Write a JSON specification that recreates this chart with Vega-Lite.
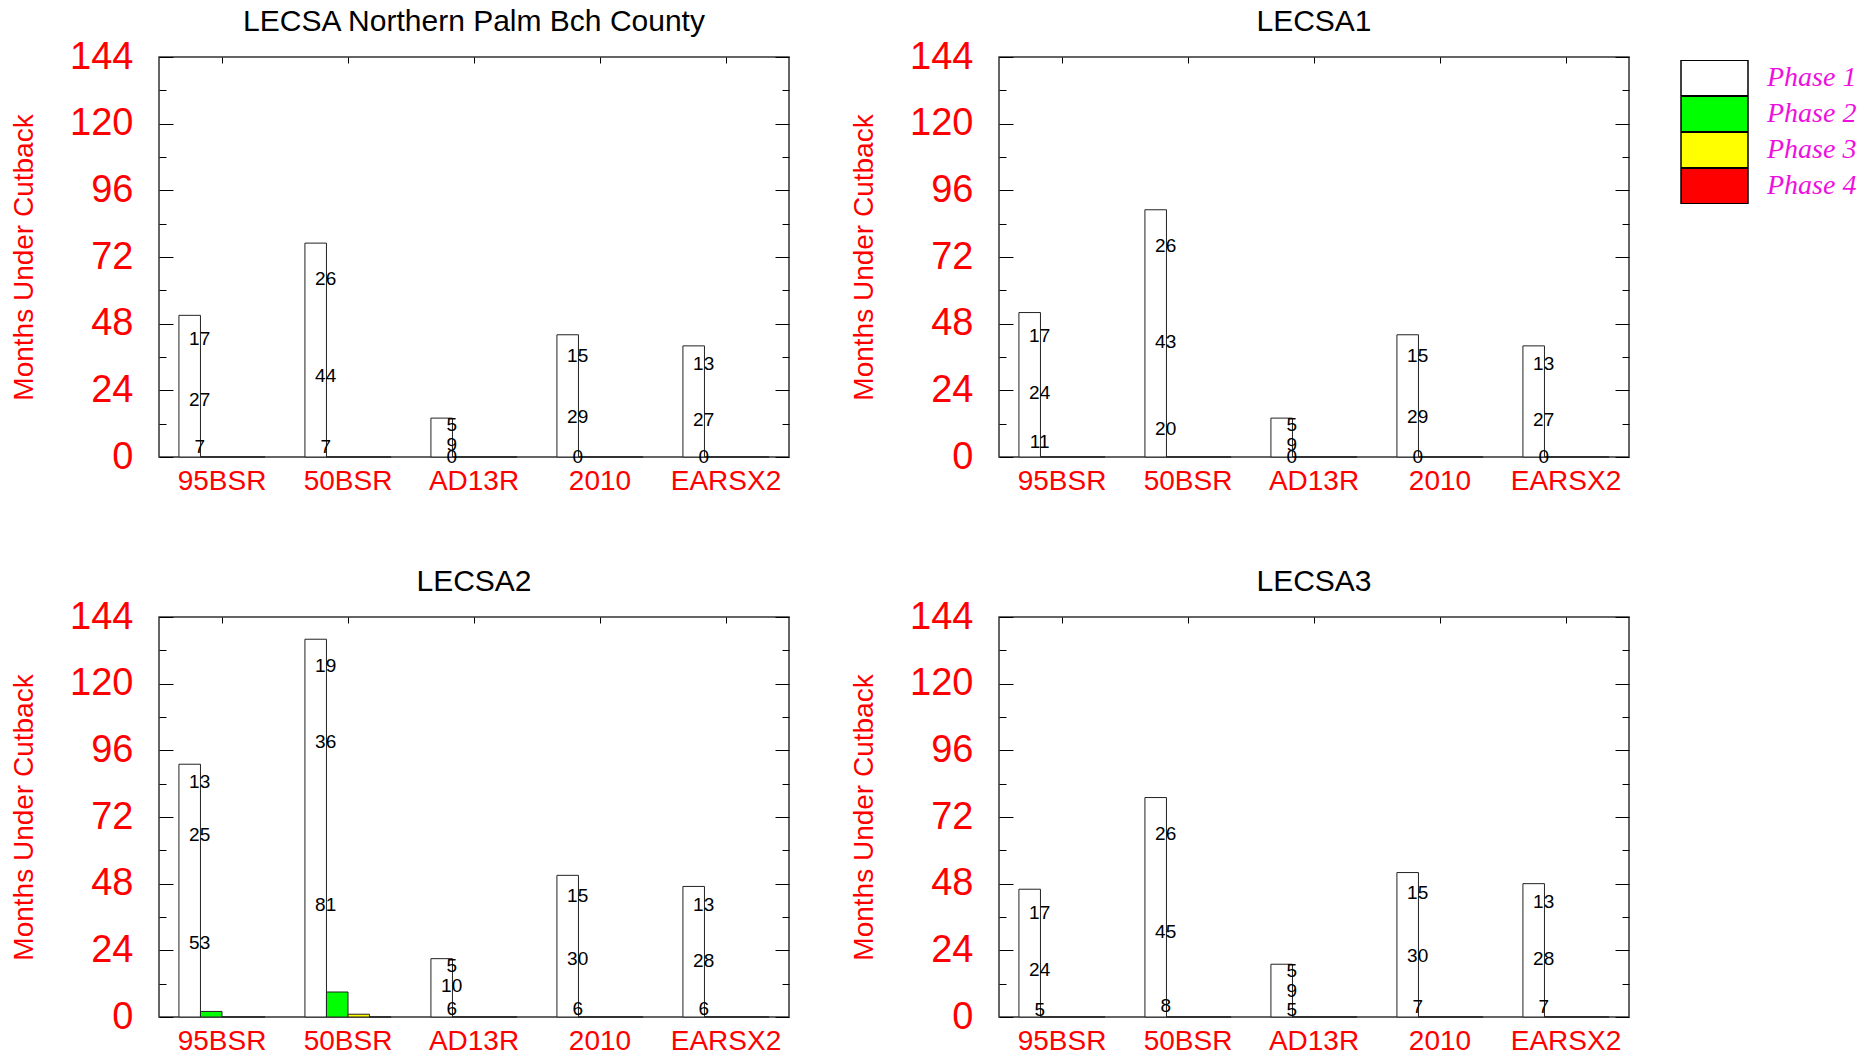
{
  "$schema": "https://vega.github.io/schema/vega-lite/v6.json",
  "padding": {"left": 9, "top": 6, "right": 0, "bottom": 0},
  "background": "white",
  "datasets": {
    "bars": [
      {"panel": "P1", "cat": "95BSR", "phase": "Phase 1", "months": 51},
      {"panel": "P1", "cat": "95BSR", "phase": "Phase 2", "months": 0},
      {"panel": "P1", "cat": "95BSR", "phase": "Phase 3", "months": 0},
      {"panel": "P1", "cat": "95BSR", "phase": "Phase 4", "months": 0},
      {"panel": "P1", "cat": "50BSR", "phase": "Phase 1", "months": 77},
      {"panel": "P1", "cat": "50BSR", "phase": "Phase 2", "months": 0},
      {"panel": "P1", "cat": "50BSR", "phase": "Phase 3", "months": 0},
      {"panel": "P1", "cat": "50BSR", "phase": "Phase 4", "months": 0},
      {"panel": "P1", "cat": "AD13R", "phase": "Phase 1", "months": 14},
      {"panel": "P1", "cat": "AD13R", "phase": "Phase 2", "months": 0},
      {"panel": "P1", "cat": "AD13R", "phase": "Phase 3", "months": 0},
      {"panel": "P1", "cat": "AD13R", "phase": "Phase 4", "months": 0},
      {"panel": "P1", "cat": "2010", "phase": "Phase 1", "months": 44},
      {"panel": "P1", "cat": "2010", "phase": "Phase 2", "months": 0},
      {"panel": "P1", "cat": "2010", "phase": "Phase 3", "months": 0},
      {"panel": "P1", "cat": "2010", "phase": "Phase 4", "months": 0},
      {"panel": "P1", "cat": "EARSX2", "phase": "Phase 1", "months": 40},
      {"panel": "P1", "cat": "EARSX2", "phase": "Phase 2", "months": 0},
      {"panel": "P1", "cat": "EARSX2", "phase": "Phase 3", "months": 0},
      {"panel": "P1", "cat": "EARSX2", "phase": "Phase 4", "months": 0},
      {"panel": "P2", "cat": "95BSR", "phase": "Phase 1", "months": 52},
      {"panel": "P2", "cat": "95BSR", "phase": "Phase 2", "months": 0},
      {"panel": "P2", "cat": "95BSR", "phase": "Phase 3", "months": 0},
      {"panel": "P2", "cat": "95BSR", "phase": "Phase 4", "months": 0},
      {"panel": "P2", "cat": "50BSR", "phase": "Phase 1", "months": 89},
      {"panel": "P2", "cat": "50BSR", "phase": "Phase 2", "months": 0},
      {"panel": "P2", "cat": "50BSR", "phase": "Phase 3", "months": 0},
      {"panel": "P2", "cat": "50BSR", "phase": "Phase 4", "months": 0},
      {"panel": "P2", "cat": "AD13R", "phase": "Phase 1", "months": 14},
      {"panel": "P2", "cat": "AD13R", "phase": "Phase 2", "months": 0},
      {"panel": "P2", "cat": "AD13R", "phase": "Phase 3", "months": 0},
      {"panel": "P2", "cat": "AD13R", "phase": "Phase 4", "months": 0},
      {"panel": "P2", "cat": "2010", "phase": "Phase 1", "months": 44},
      {"panel": "P2", "cat": "2010", "phase": "Phase 2", "months": 0},
      {"panel": "P2", "cat": "2010", "phase": "Phase 3", "months": 0},
      {"panel": "P2", "cat": "2010", "phase": "Phase 4", "months": 0},
      {"panel": "P2", "cat": "EARSX2", "phase": "Phase 1", "months": 40},
      {"panel": "P2", "cat": "EARSX2", "phase": "Phase 2", "months": 0},
      {"panel": "P2", "cat": "EARSX2", "phase": "Phase 3", "months": 0},
      {"panel": "P2", "cat": "EARSX2", "phase": "Phase 4", "months": 0},
      {"panel": "P3", "cat": "95BSR", "phase": "Phase 1", "months": 91},
      {"panel": "P3", "cat": "95BSR", "phase": "Phase 2", "months": 2},
      {"panel": "P3", "cat": "95BSR", "phase": "Phase 3", "months": 0},
      {"panel": "P3", "cat": "95BSR", "phase": "Phase 4", "months": 0},
      {"panel": "P3", "cat": "50BSR", "phase": "Phase 1", "months": 136},
      {"panel": "P3", "cat": "50BSR", "phase": "Phase 2", "months": 9},
      {"panel": "P3", "cat": "50BSR", "phase": "Phase 3", "months": 1},
      {"panel": "P3", "cat": "50BSR", "phase": "Phase 4", "months": 0},
      {"panel": "P3", "cat": "AD13R", "phase": "Phase 1", "months": 21},
      {"panel": "P3", "cat": "AD13R", "phase": "Phase 2", "months": 0},
      {"panel": "P3", "cat": "AD13R", "phase": "Phase 3", "months": 0},
      {"panel": "P3", "cat": "AD13R", "phase": "Phase 4", "months": 0},
      {"panel": "P3", "cat": "2010", "phase": "Phase 1", "months": 51},
      {"panel": "P3", "cat": "2010", "phase": "Phase 2", "months": 0},
      {"panel": "P3", "cat": "2010", "phase": "Phase 3", "months": 0},
      {"panel": "P3", "cat": "2010", "phase": "Phase 4", "months": 0},
      {"panel": "P3", "cat": "EARSX2", "phase": "Phase 1", "months": 47},
      {"panel": "P3", "cat": "EARSX2", "phase": "Phase 2", "months": 0},
      {"panel": "P3", "cat": "EARSX2", "phase": "Phase 3", "months": 0},
      {"panel": "P3", "cat": "EARSX2", "phase": "Phase 4", "months": 0},
      {"panel": "P4", "cat": "95BSR", "phase": "Phase 1", "months": 46},
      {"panel": "P4", "cat": "95BSR", "phase": "Phase 2", "months": 0},
      {"panel": "P4", "cat": "95BSR", "phase": "Phase 3", "months": 0},
      {"panel": "P4", "cat": "95BSR", "phase": "Phase 4", "months": 0},
      {"panel": "P4", "cat": "50BSR", "phase": "Phase 1", "months": 79},
      {"panel": "P4", "cat": "50BSR", "phase": "Phase 2", "months": 0},
      {"panel": "P4", "cat": "50BSR", "phase": "Phase 3", "months": 0},
      {"panel": "P4", "cat": "50BSR", "phase": "Phase 4", "months": 0},
      {"panel": "P4", "cat": "AD13R", "phase": "Phase 1", "months": 19},
      {"panel": "P4", "cat": "AD13R", "phase": "Phase 2", "months": 0},
      {"panel": "P4", "cat": "AD13R", "phase": "Phase 3", "months": 0},
      {"panel": "P4", "cat": "AD13R", "phase": "Phase 4", "months": 0},
      {"panel": "P4", "cat": "2010", "phase": "Phase 1", "months": 52},
      {"panel": "P4", "cat": "2010", "phase": "Phase 2", "months": 0},
      {"panel": "P4", "cat": "2010", "phase": "Phase 3", "months": 0},
      {"panel": "P4", "cat": "2010", "phase": "Phase 4", "months": 0},
      {"panel": "P4", "cat": "EARSX2", "phase": "Phase 1", "months": 48},
      {"panel": "P4", "cat": "EARSX2", "phase": "Phase 2", "months": 0},
      {"panel": "P4", "cat": "EARSX2", "phase": "Phase 3", "months": 0},
      {"panel": "P4", "cat": "EARSX2", "phase": "Phase 4", "months": 0}
    ],
    "segs": [
      {"panel": "P1", "cat": "95BSR", "phase": "Phase 1", "seg": 1, "n": 7},
      {"panel": "P1", "cat": "95BSR", "phase": "Phase 1", "seg": 2, "n": 27},
      {"panel": "P1", "cat": "95BSR", "phase": "Phase 1", "seg": 3, "n": 17},
      {"panel": "P1", "cat": "50BSR", "phase": "Phase 1", "seg": 1, "n": 7},
      {"panel": "P1", "cat": "50BSR", "phase": "Phase 1", "seg": 2, "n": 44},
      {"panel": "P1", "cat": "50BSR", "phase": "Phase 1", "seg": 3, "n": 26},
      {"panel": "P1", "cat": "AD13R", "phase": "Phase 1", "seg": 1, "n": 0},
      {"panel": "P1", "cat": "AD13R", "phase": "Phase 1", "seg": 2, "n": 9},
      {"panel": "P1", "cat": "AD13R", "phase": "Phase 1", "seg": 3, "n": 5},
      {"panel": "P1", "cat": "2010", "phase": "Phase 1", "seg": 1, "n": 0},
      {"panel": "P1", "cat": "2010", "phase": "Phase 1", "seg": 2, "n": 29},
      {"panel": "P1", "cat": "2010", "phase": "Phase 1", "seg": 3, "n": 15},
      {"panel": "P1", "cat": "EARSX2", "phase": "Phase 1", "seg": 1, "n": 0},
      {"panel": "P1", "cat": "EARSX2", "phase": "Phase 1", "seg": 2, "n": 27},
      {"panel": "P1", "cat": "EARSX2", "phase": "Phase 1", "seg": 3, "n": 13},
      {"panel": "P2", "cat": "95BSR", "phase": "Phase 1", "seg": 1, "n": 11},
      {"panel": "P2", "cat": "95BSR", "phase": "Phase 1", "seg": 2, "n": 24},
      {"panel": "P2", "cat": "95BSR", "phase": "Phase 1", "seg": 3, "n": 17},
      {"panel": "P2", "cat": "50BSR", "phase": "Phase 1", "seg": 1, "n": 20},
      {"panel": "P2", "cat": "50BSR", "phase": "Phase 1", "seg": 2, "n": 43},
      {"panel": "P2", "cat": "50BSR", "phase": "Phase 1", "seg": 3, "n": 26},
      {"panel": "P2", "cat": "AD13R", "phase": "Phase 1", "seg": 1, "n": 0},
      {"panel": "P2", "cat": "AD13R", "phase": "Phase 1", "seg": 2, "n": 9},
      {"panel": "P2", "cat": "AD13R", "phase": "Phase 1", "seg": 3, "n": 5},
      {"panel": "P2", "cat": "2010", "phase": "Phase 1", "seg": 1, "n": 0},
      {"panel": "P2", "cat": "2010", "phase": "Phase 1", "seg": 2, "n": 29},
      {"panel": "P2", "cat": "2010", "phase": "Phase 1", "seg": 3, "n": 15},
      {"panel": "P2", "cat": "EARSX2", "phase": "Phase 1", "seg": 1, "n": 0},
      {"panel": "P2", "cat": "EARSX2", "phase": "Phase 1", "seg": 2, "n": 27},
      {"panel": "P2", "cat": "EARSX2", "phase": "Phase 1", "seg": 3, "n": 13},
      {"panel": "P3", "cat": "95BSR", "phase": "Phase 1", "seg": 1, "n": 53},
      {"panel": "P3", "cat": "95BSR", "phase": "Phase 1", "seg": 2, "n": 25},
      {"panel": "P3", "cat": "95BSR", "phase": "Phase 1", "seg": 3, "n": 13},
      {"panel": "P3", "cat": "50BSR", "phase": "Phase 1", "seg": 1, "n": 81},
      {"panel": "P3", "cat": "50BSR", "phase": "Phase 1", "seg": 2, "n": 36},
      {"panel": "P3", "cat": "50BSR", "phase": "Phase 1", "seg": 3, "n": 19},
      {"panel": "P3", "cat": "AD13R", "phase": "Phase 1", "seg": 1, "n": 6},
      {"panel": "P3", "cat": "AD13R", "phase": "Phase 1", "seg": 2, "n": 10},
      {"panel": "P3", "cat": "AD13R", "phase": "Phase 1", "seg": 3, "n": 5},
      {"panel": "P3", "cat": "2010", "phase": "Phase 1", "seg": 1, "n": 6},
      {"panel": "P3", "cat": "2010", "phase": "Phase 1", "seg": 2, "n": 30},
      {"panel": "P3", "cat": "2010", "phase": "Phase 1", "seg": 3, "n": 15},
      {"panel": "P3", "cat": "EARSX2", "phase": "Phase 1", "seg": 1, "n": 6},
      {"panel": "P3", "cat": "EARSX2", "phase": "Phase 1", "seg": 2, "n": 28},
      {"panel": "P3", "cat": "EARSX2", "phase": "Phase 1", "seg": 3, "n": 13},
      {"panel": "P4", "cat": "95BSR", "phase": "Phase 1", "seg": 1, "n": 5},
      {"panel": "P4", "cat": "95BSR", "phase": "Phase 1", "seg": 2, "n": 24},
      {"panel": "P4", "cat": "95BSR", "phase": "Phase 1", "seg": 3, "n": 17},
      {"panel": "P4", "cat": "50BSR", "phase": "Phase 1", "seg": 1, "n": 8},
      {"panel": "P4", "cat": "50BSR", "phase": "Phase 1", "seg": 2, "n": 45},
      {"panel": "P4", "cat": "50BSR", "phase": "Phase 1", "seg": 3, "n": 26},
      {"panel": "P4", "cat": "AD13R", "phase": "Phase 1", "seg": 1, "n": 5},
      {"panel": "P4", "cat": "AD13R", "phase": "Phase 1", "seg": 2, "n": 9},
      {"panel": "P4", "cat": "AD13R", "phase": "Phase 1", "seg": 3, "n": 5},
      {"panel": "P4", "cat": "2010", "phase": "Phase 1", "seg": 1, "n": 7},
      {"panel": "P4", "cat": "2010", "phase": "Phase 1", "seg": 2, "n": 30},
      {"panel": "P4", "cat": "2010", "phase": "Phase 1", "seg": 3, "n": 15},
      {"panel": "P4", "cat": "EARSX2", "phase": "Phase 1", "seg": 1, "n": 7},
      {"panel": "P4", "cat": "EARSX2", "phase": "Phase 1", "seg": 2, "n": 28},
      {"panel": "P4", "cat": "EARSX2", "phase": "Phase 1", "seg": 3, "n": 13}
    ]
  },
  "columns": 2,
  "spacing": {"row": 160, "column": 210},
  "bounds": "flush",
  "concat": [
    {
      "title": "LECSA Northern Palm Bch County",
      "width": 630, "height": 400,
      "layer": [
        {
          "data": {"name": "bars"},
          "transform": [{"filter": "datum.panel === 'P1'"}],
          "mark": {"type": "bar", "stroke": "#222", "strokeWidth": 1},
          "encoding": {
            "x": {"field": "cat", "type": "nominal", "sort": ["95BSR", "50BSR", "AD13R", "2010", "EARSX2"], "scale": {"paddingInner": 0.316, "paddingOuter": 0.158}, "axis": {"orient": "bottom", "title": null, "ticks": false, "labelColor": "red", "labelFontSize": 28, "labelPadding": 10, "labelAngle": 0}},
            "xOffset": {"field": "phase", "type": "nominal", "sort": ["Phase 1", "Phase 2", "Phase 3", "Phase 4"], "scale": {"paddingInner": 0, "paddingOuter": 0}},
            "y": {"field": "months", "type": "quantitative", "scale": {"domain": [0, 144], "nice": false}, "axis": {"orient": "left", "values": [0, 12, 24, 36, 48, 60, 72, 84, 96, 108, 120, 132, 144], "labelExpr": "datum.value % 24 === 0 ? datum.label : ''", "tickSize": {"condition": {"test": "datum.value % 24 === 0", "value": -14}, "value": -7}, "labelColor": "red", "labelFontSize": 38, "labelPadding": 40, "labelBaseline": "middle", "title": "Months Under Cutback", "titleColor": "red", "titleFontSize": 28, "titleFontWeight": "normal", "titleX": -127, "titleY": 200, "titleAngle": -90, "titleAlign": "center", "titleBaseline": "alphabetic"}},
            "color": {"field": "phase", "type": "nominal", "scale": {"domain": ["Phase 1", "Phase 2", "Phase 3", "Phase 4"], "range": ["#ffffff", "#00ff00", "#ffff00", "#ff0000"]}, "legend": {"orient": "none", "legendX": 1521, "legendY": 3, "title": null, "symbolType": "M-1,-0.53H1V0.53H-1Z", "symbolSize": 4489, "symbolStrokeColor": "black", "symbolStrokeWidth": 1.5, "labelFont": "Liberation Serif", "labelFontStyle": "italic", "labelFontSize": 28, "labelColor": "#ee11dd", "labelOffset": 18, "clipHeight": 36, "rowPadding": 0, "padding": 0}}
          }
        },
        {
          "data": {"name": "segs"},
          "transform": [
            {"filter": "datum.panel === 'P1'"},
            {"stack": "n", "groupby": ["cat"], "sort": [{"field": "seg", "order": "ascending"}], "as": ["n0", "n1"]},
            {"fold": ["n0", "n1"], "as": ["edge", "pos"]},
            {"aggregate": [{"op": "mean", "field": "pos", "as": "mid"}], "groupby": ["cat", "phase", "seg", "n"]}
          ],
          "mark": {"type": "text", "font": "Liberation Sans", "fontSize": 19, "color": "black", "dx": 10, "align": "center", "baseline": "middle"},
          "encoding": {
            "x": {"field": "cat", "type": "nominal", "sort": ["95BSR", "50BSR", "AD13R", "2010", "EARSX2"], "axis": {"orient": "top", "labels": false, "title": null, "tickSize": -6}},
            "xOffset": {"field": "phase", "type": "nominal", "sort": ["Phase 1", "Phase 2", "Phase 3", "Phase 4"]},
            "y": {"field": "mid", "type": "quantitative", "axis": {"orient": "right", "values": [0, 12, 24, 36, 48, 60, 72, 84, 96, 108, 120, 132, 144], "labels": false, "title": null, "tickSize": {"condition": {"test": "datum.value % 24 === 0", "value": -14}, "value": -7}}},
            "text": {"field": "n", "type": "quantitative"}
          }
        }
      ]
    },
    {
      "title": "LECSA1",
      "width": 630, "height": 400,
      "layer": [
        {
          "data": {"name": "bars"},
          "transform": [{"filter": "datum.panel === 'P2'"}],
          "mark": {"type": "bar", "stroke": "#222", "strokeWidth": 1},
          "encoding": {
            "x": {"field": "cat", "type": "nominal", "sort": ["95BSR", "50BSR", "AD13R", "2010", "EARSX2"], "scale": {"paddingInner": 0.316, "paddingOuter": 0.158}, "axis": {"orient": "bottom", "title": null, "ticks": false, "labelColor": "red", "labelFontSize": 28, "labelPadding": 10, "labelAngle": 0}},
            "xOffset": {"field": "phase", "type": "nominal", "sort": ["Phase 1", "Phase 2", "Phase 3", "Phase 4"], "scale": {"paddingInner": 0, "paddingOuter": 0}},
            "y": {"field": "months", "type": "quantitative", "scale": {"domain": [0, 144], "nice": false}, "axis": {"orient": "left", "values": [0, 12, 24, 36, 48, 60, 72, 84, 96, 108, 120, 132, 144], "labelExpr": "datum.value % 24 === 0 ? datum.label : ''", "tickSize": {"condition": {"test": "datum.value % 24 === 0", "value": -14}, "value": -7}, "labelColor": "red", "labelFontSize": 38, "labelPadding": 40, "labelBaseline": "middle", "title": "Months Under Cutback", "titleColor": "red", "titleFontSize": 28, "titleFontWeight": "normal", "titleX": -127, "titleY": 200, "titleAngle": -90, "titleAlign": "center", "titleBaseline": "alphabetic"}},
            "color": {"field": "phase", "type": "nominal", "scale": {"domain": ["Phase 1", "Phase 2", "Phase 3", "Phase 4"], "range": ["#ffffff", "#00ff00", "#ffff00", "#ff0000"]}, "legend": {"orient": "none", "legendX": 1521, "legendY": 3, "title": null, "symbolType": "M-1,-0.53H1V0.53H-1Z", "symbolSize": 4489, "symbolStrokeColor": "black", "symbolStrokeWidth": 1.5, "labelFont": "Liberation Serif", "labelFontStyle": "italic", "labelFontSize": 28, "labelColor": "#ee11dd", "labelOffset": 18, "clipHeight": 36, "rowPadding": 0, "padding": 0}}
          }
        },
        {
          "data": {"name": "segs"},
          "transform": [
            {"filter": "datum.panel === 'P2'"},
            {"stack": "n", "groupby": ["cat"], "sort": [{"field": "seg", "order": "ascending"}], "as": ["n0", "n1"]},
            {"fold": ["n0", "n1"], "as": ["edge", "pos"]},
            {"aggregate": [{"op": "mean", "field": "pos", "as": "mid"}], "groupby": ["cat", "phase", "seg", "n"]}
          ],
          "mark": {"type": "text", "font": "Liberation Sans", "fontSize": 19, "color": "black", "dx": 10, "align": "center", "baseline": "middle"},
          "encoding": {
            "x": {"field": "cat", "type": "nominal", "sort": ["95BSR", "50BSR", "AD13R", "2010", "EARSX2"], "axis": {"orient": "top", "labels": false, "title": null, "tickSize": -6}},
            "xOffset": {"field": "phase", "type": "nominal", "sort": ["Phase 1", "Phase 2", "Phase 3", "Phase 4"]},
            "y": {"field": "mid", "type": "quantitative", "axis": {"orient": "right", "values": [0, 12, 24, 36, 48, 60, 72, 84, 96, 108, 120, 132, 144], "labels": false, "title": null, "tickSize": {"condition": {"test": "datum.value % 24 === 0", "value": -14}, "value": -7}}},
            "text": {"field": "n", "type": "quantitative"}
          }
        }
      ]
    },
    {
      "title": "LECSA2",
      "width": 630, "height": 400,
      "layer": [
        {
          "data": {"name": "bars"},
          "transform": [{"filter": "datum.panel === 'P3'"}],
          "mark": {"type": "bar", "stroke": "#222", "strokeWidth": 1},
          "encoding": {
            "x": {"field": "cat", "type": "nominal", "sort": ["95BSR", "50BSR", "AD13R", "2010", "EARSX2"], "scale": {"paddingInner": 0.316, "paddingOuter": 0.158}, "axis": {"orient": "bottom", "title": null, "ticks": false, "labelColor": "red", "labelFontSize": 28, "labelPadding": 10, "labelAngle": 0}},
            "xOffset": {"field": "phase", "type": "nominal", "sort": ["Phase 1", "Phase 2", "Phase 3", "Phase 4"], "scale": {"paddingInner": 0, "paddingOuter": 0}},
            "y": {"field": "months", "type": "quantitative", "scale": {"domain": [0, 144], "nice": false}, "axis": {"orient": "left", "values": [0, 12, 24, 36, 48, 60, 72, 84, 96, 108, 120, 132, 144], "labelExpr": "datum.value % 24 === 0 ? datum.label : ''", "tickSize": {"condition": {"test": "datum.value % 24 === 0", "value": -14}, "value": -7}, "labelColor": "red", "labelFontSize": 38, "labelPadding": 40, "labelBaseline": "middle", "title": "Months Under Cutback", "titleColor": "red", "titleFontSize": 28, "titleFontWeight": "normal", "titleX": -127, "titleY": 200, "titleAngle": -90, "titleAlign": "center", "titleBaseline": "alphabetic"}},
            "color": {"field": "phase", "type": "nominal", "scale": {"domain": ["Phase 1", "Phase 2", "Phase 3", "Phase 4"], "range": ["#ffffff", "#00ff00", "#ffff00", "#ff0000"]}, "legend": {"orient": "none", "legendX": 1521, "legendY": 3, "title": null, "symbolType": "M-1,-0.53H1V0.53H-1Z", "symbolSize": 4489, "symbolStrokeColor": "black", "symbolStrokeWidth": 1.5, "labelFont": "Liberation Serif", "labelFontStyle": "italic", "labelFontSize": 28, "labelColor": "#ee11dd", "labelOffset": 18, "clipHeight": 36, "rowPadding": 0, "padding": 0}}
          }
        },
        {
          "data": {"name": "segs"},
          "transform": [
            {"filter": "datum.panel === 'P3'"},
            {"stack": "n", "groupby": ["cat"], "sort": [{"field": "seg", "order": "ascending"}], "as": ["n0", "n1"]},
            {"fold": ["n0", "n1"], "as": ["edge", "pos"]},
            {"aggregate": [{"op": "mean", "field": "pos", "as": "mid"}], "groupby": ["cat", "phase", "seg", "n"]}
          ],
          "mark": {"type": "text", "font": "Liberation Sans", "fontSize": 19, "color": "black", "dx": 10, "align": "center", "baseline": "middle"},
          "encoding": {
            "x": {"field": "cat", "type": "nominal", "sort": ["95BSR", "50BSR", "AD13R", "2010", "EARSX2"], "axis": {"orient": "top", "labels": false, "title": null, "tickSize": -6}},
            "xOffset": {"field": "phase", "type": "nominal", "sort": ["Phase 1", "Phase 2", "Phase 3", "Phase 4"]},
            "y": {"field": "mid", "type": "quantitative", "axis": {"orient": "right", "values": [0, 12, 24, 36, 48, 60, 72, 84, 96, 108, 120, 132, 144], "labels": false, "title": null, "tickSize": {"condition": {"test": "datum.value % 24 === 0", "value": -14}, "value": -7}}},
            "text": {"field": "n", "type": "quantitative"}
          }
        }
      ]
    },
    {
      "title": "LECSA3",
      "width": 630, "height": 400,
      "layer": [
        {
          "data": {"name": "bars"},
          "transform": [{"filter": "datum.panel === 'P4'"}],
          "mark": {"type": "bar", "stroke": "#222", "strokeWidth": 1},
          "encoding": {
            "x": {"field": "cat", "type": "nominal", "sort": ["95BSR", "50BSR", "AD13R", "2010", "EARSX2"], "scale": {"paddingInner": 0.316, "paddingOuter": 0.158}, "axis": {"orient": "bottom", "title": null, "ticks": false, "labelColor": "red", "labelFontSize": 28, "labelPadding": 10, "labelAngle": 0}},
            "xOffset": {"field": "phase", "type": "nominal", "sort": ["Phase 1", "Phase 2", "Phase 3", "Phase 4"], "scale": {"paddingInner": 0, "paddingOuter": 0}},
            "y": {"field": "months", "type": "quantitative", "scale": {"domain": [0, 144], "nice": false}, "axis": {"orient": "left", "values": [0, 12, 24, 36, 48, 60, 72, 84, 96, 108, 120, 132, 144], "labelExpr": "datum.value % 24 === 0 ? datum.label : ''", "tickSize": {"condition": {"test": "datum.value % 24 === 0", "value": -14}, "value": -7}, "labelColor": "red", "labelFontSize": 38, "labelPadding": 40, "labelBaseline": "middle", "title": "Months Under Cutback", "titleColor": "red", "titleFontSize": 28, "titleFontWeight": "normal", "titleX": -127, "titleY": 200, "titleAngle": -90, "titleAlign": "center", "titleBaseline": "alphabetic"}},
            "color": {"field": "phase", "type": "nominal", "scale": {"domain": ["Phase 1", "Phase 2", "Phase 3", "Phase 4"], "range": ["#ffffff", "#00ff00", "#ffff00", "#ff0000"]}, "legend": {"orient": "none", "legendX": 1521, "legendY": 3, "title": null, "symbolType": "M-1,-0.53H1V0.53H-1Z", "symbolSize": 4489, "symbolStrokeColor": "black", "symbolStrokeWidth": 1.5, "labelFont": "Liberation Serif", "labelFontStyle": "italic", "labelFontSize": 28, "labelColor": "#ee11dd", "labelOffset": 18, "clipHeight": 36, "rowPadding": 0, "padding": 0}}
          }
        },
        {
          "data": {"name": "segs"},
          "transform": [
            {"filter": "datum.panel === 'P4'"},
            {"stack": "n", "groupby": ["cat"], "sort": [{"field": "seg", "order": "ascending"}], "as": ["n0", "n1"]},
            {"fold": ["n0", "n1"], "as": ["edge", "pos"]},
            {"aggregate": [{"op": "mean", "field": "pos", "as": "mid"}], "groupby": ["cat", "phase", "seg", "n"]}
          ],
          "mark": {"type": "text", "font": "Liberation Sans", "fontSize": 19, "color": "black", "dx": 10, "align": "center", "baseline": "middle"},
          "encoding": {
            "x": {"field": "cat", "type": "nominal", "sort": ["95BSR", "50BSR", "AD13R", "2010", "EARSX2"], "axis": {"orient": "top", "labels": false, "title": null, "tickSize": -6}},
            "xOffset": {"field": "phase", "type": "nominal", "sort": ["Phase 1", "Phase 2", "Phase 3", "Phase 4"]},
            "y": {"field": "mid", "type": "quantitative", "axis": {"orient": "right", "values": [0, 12, 24, 36, 48, 60, 72, 84, 96, 108, 120, 132, 144], "labels": false, "title": null, "tickSize": {"condition": {"test": "datum.value % 24 === 0", "value": -14}, "value": -7}}},
            "text": {"field": "n", "type": "quantitative"}
          }
        }
      ]
    }
  ],
  "config": {
    "view": {"stroke": "#333", "strokeWidth": 1.5},
    "title": {"font": "Liberation Sans", "fontSize": 30, "fontWeight": "normal", "color": "black", "anchor": "middle", "frame": "group", "baseline": "alphabetic", "offset": 1},
    "axis": {"labelFont": "Liberation Sans", "titleFont": "Liberation Sans", "grid": false, "domain": false, "tickColor": "black", "tickWidth": 1, "labelOverlap": false, "labelFlush": false}
  }
}
